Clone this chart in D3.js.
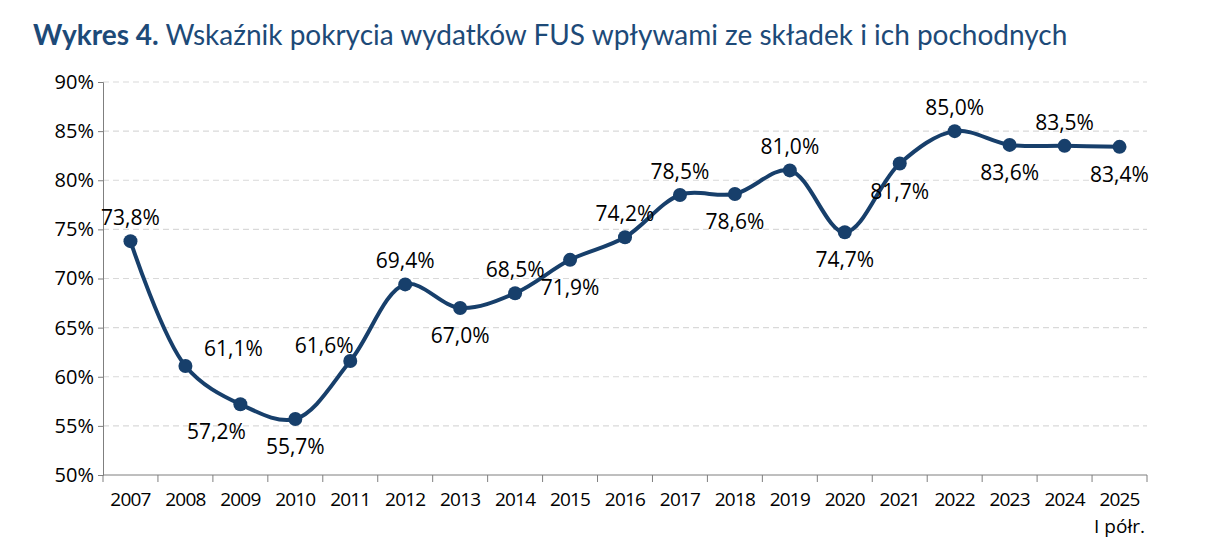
<!DOCTYPE html>
<html><head><meta charset="utf-8">
<script src="https://cdn.jsdelivr.net/npm/d3@7"></script>
<style>body{margin:0;background:#fff}</style>
</head><body>
<svg id="graf" width="1208" height="560"></svg>
<script>
// dane wykresu
const lata = ["2007","2008","2009","2010","2011","2012","2013","2014","2015","2016","2017","2018","2019","2020","2021","2022","2023","2024","2025"];
const wartosci = [73.8,61.1,57.2,55.7,61.6,69.4,67.0,68.5,71.9,74.2,78.5,78.6,81.0,74.7,81.7,85.0,83.6,83.5,83.4];
const pozycjeEtykiet = ["up","upr","downl","down","upl","up","down","up","down","up","up","down","up","down","down","up","down","up","down"];
const ticksY = [50,55,60,65,70,75,80,85,90];

const svg = d3.select("#graf");
const margins = {left:103, top:82, right:61, bottom:85};
const ancho = 1208 - margins.left - margins.right;
const alto = 560 - margins.top - margins.bottom;
const azul = "#173f6b";

// tytuł
const t = svg.append("text").attr("x",33).attr("y",45)
  .attr("font-family","Lato, sans-serif").attr("font-size",28).attr("fill","#1d4a78");
t.append("tspan").attr("font-weight","bold").text("Wykres 4.");
t.append("tspan").text(" Wskaźnik pokrycia wydatków FUS wpływami ze składek i ich pochodnych");

const x = d3.scaleBand().domain(lata).range([0, ancho]);
const y = d3.scaleLinear().domain([50,90]).range([alto,0]);

const g = svg.append("g").attr("transform",`translate(${margins.left},${margins.top})`);

// siatka
g.selectAll(".grid").data(ticksY.slice(1)).enter().append("line")
  .attr("x1",0).attr("x2",ancho).attr("y1",d=>y(d)).attr("y2",d=>y(d))
  .attr("stroke","#d9d9d9").attr("stroke-dasharray","6,4").attr("stroke-width",1.2);

// osie
const yAxis = d3.axisLeft(y).tickValues(ticksY).tickSize(5).tickFormat(d=>d+"%");
const gy = g.append("g").call(yAxis);
gy.select(".domain").attr("stroke","#7f7f7f");
gy.selectAll(".tick line").attr("stroke","#7f7f7f");
gy.selectAll("text").attr("font-family","'Open Sans', sans-serif").attr("font-size",20).attr("fill","#000").attr("x",-9);

const gx = g.append("g").attr("transform",`translate(0,${alto})`);
gx.append("line").attr("x1",0).attr("x2",ancho).attr("stroke","#7f7f7f");
gx.selectAll(".tk").data(d3.range(lata.length+1)).enter().append("line")
  .attr("x1",i=>i*x.step()).attr("x2",i=>i*x.step()).attr("y1",0).attr("y2",7).attr("stroke","#7f7f7f");
gx.selectAll(".lab").data(lata).enter().append("text")
  .attr("x",d=>x(d)+x.bandwidth()/2).attr("y",31).attr("text-anchor","middle")
  .attr("font-family","'Open Sans', sans-serif").attr("font-size",19).attr("letter-spacing",-0.8).text(d=>d);
gx.append("text").attr("x",x("2025")+x.bandwidth()/2).attr("y",58).attr("text-anchor","middle")
  .attr("font-family","'Open Sans', sans-serif").attr("font-size",19).text("I półr.");

// linia
const linia = d3.line().x((d,i)=>x(lata[i])+x.bandwidth()/2).y(d=>y(d)).curve(d3.curveCatmullRom.alpha(0.5));
g.append("path").datum(wartosci).attr("d",linia).attr("fill","none").attr("stroke",azul).attr("stroke-width",4);

g.selectAll(".pt").data(wartosci).enter().append("circle")
  .attr("cx",(d,i)=>x(lata[i])+x.bandwidth()/2).attr("cy",d=>y(d)).attr("r",7).attr("fill",azul);

// etykiety
const off = {up:[0,-16],down:[0,35],upr:[48,-10],downl:[-24,35],upl:[-26,-8]};
g.selectAll(".et").data(wartosci).enter().append("text")
  .attr("x",(d,i)=>x(lata[i])+x.bandwidth()/2+off[pozycjeEtykiet[i]][0])
  .attr("y",(d,i)=>y(d)+off[pozycjeEtykiet[i]][1])
  .attr("text-anchor","middle").attr("font-family","'Open Sans', sans-serif").attr("font-size",21)
  .text(d=>d.toFixed(1).replace(".",",")+"%");
</script>
</body></html>
